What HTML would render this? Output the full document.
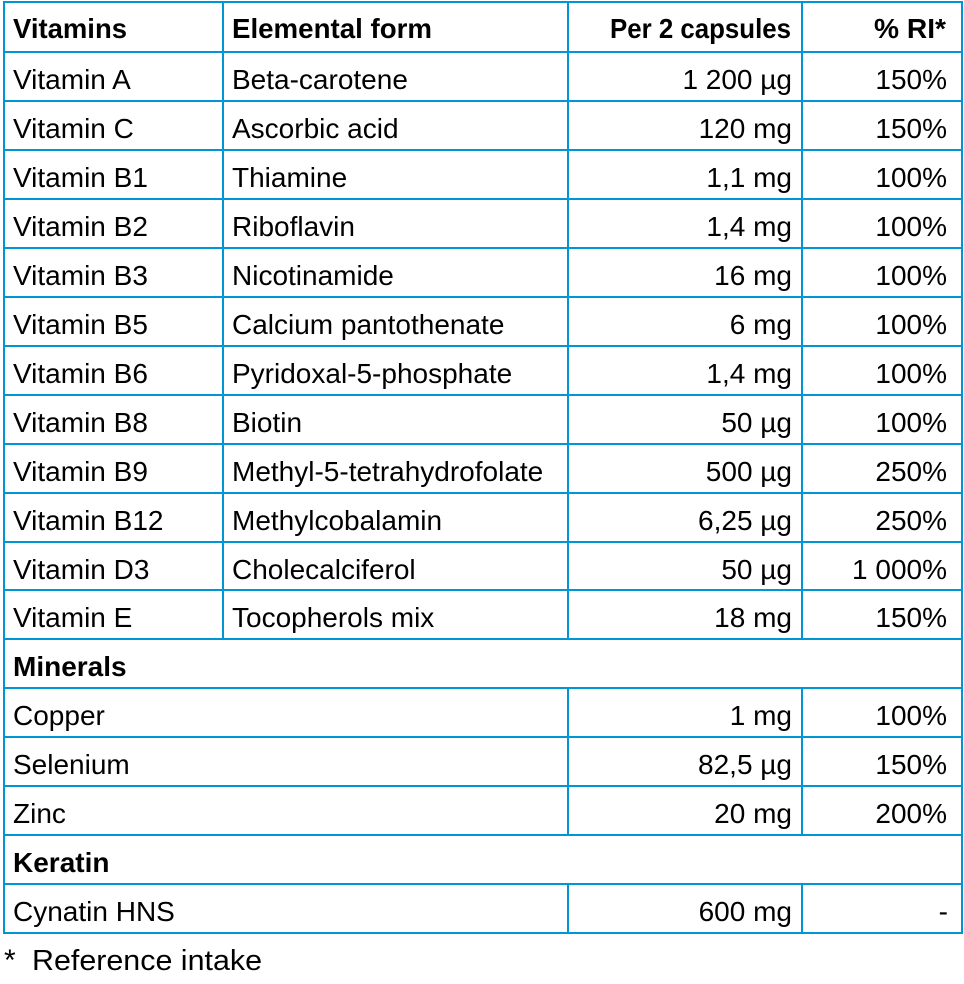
<!DOCTYPE html>
<html>
<head>
<meta charset="utf-8">
<style>
  html,body{margin:0;padding:0;background:#fff;}
  svg{display:block;}
  text{font-family:"Liberation Sans",sans-serif;fill:#000;}
  .r{font-size:28px;}
  .b{font-size:28px;font-weight:bold;}
  .e{text-anchor:end;}
</style>
</head>
<body>
<svg width="964" height="984" viewBox="0 0 964 984" xmlns="http://www.w3.org/2000/svg">
  <g fill="#0096d6">
    <!-- horizontal lines -->
    <rect x="3" y="1" width="960" height="2"/>
    <rect x="3" y="51" width="960" height="2"/>
    <rect x="3" y="100" width="960" height="2"/>
    <rect x="3" y="149" width="960" height="2"/>
    <rect x="3" y="198" width="960" height="2"/>
    <rect x="3" y="247" width="960" height="2"/>
    <rect x="3" y="296" width="960" height="2"/>
    <rect x="3" y="345" width="960" height="2"/>
    <rect x="3" y="394" width="960" height="2"/>
    <rect x="3" y="443" width="960" height="2"/>
    <rect x="3" y="492" width="960" height="2"/>
    <rect x="3" y="541" width="960" height="2"/>
    <rect x="3" y="589" width="960" height="2"/>
    <rect x="3" y="638" width="960" height="2"/>
    <rect x="3" y="687" width="960" height="2"/>
    <rect x="3" y="736" width="960" height="2"/>
    <rect x="3" y="785" width="960" height="2"/>
    <rect x="3" y="834" width="960" height="2"/>
    <rect x="3" y="883" width="960" height="2"/>
    <rect x="3" y="932" width="960" height="2"/>
    <!-- outer verticals -->
    <rect x="3" y="1" width="2" height="933"/>
    <rect x="961" y="1" width="2" height="933"/>
    <!-- col2 -->
    <rect x="222" y="1" width="2" height="639"/>
    <!-- col3 -->
    <rect x="567" y="1" width="2" height="639"/>
    <rect x="567" y="687" width="2" height="149"/>
    <rect x="567" y="883" width="2" height="51"/>
    <!-- col4 -->
    <rect x="801" y="1" width="2" height="639"/>
    <rect x="801" y="687" width="2" height="149"/>
    <rect x="801" y="883" width="2" height="51"/>
  </g>

  <!-- header -->
  <text class="b" x="13" y="38" textLength="114" lengthAdjust="spacingAndGlyphs">Vitamins</text>
  <text class="b" x="232" y="38" textLength="200" lengthAdjust="spacingAndGlyphs">Elemental form</text>
  <text class="b e" x="791" y="38" textLength="181" lengthAdjust="spacingAndGlyphs">Per 2 capsules</text>
  <text class="b e" x="946" y="38" textLength="72" lengthAdjust="spacingAndGlyphs">% RI*</text>

  <!-- rows -->
  <g class="r">
    <text class="r" x="13" y="89">Vitamin A</text>
    <text class="r" x="232" y="89">Beta-carotene</text>
    <text class="r e" x="792" y="89">1 200 µg</text>
    <text class="r e" x="947" y="89">150%</text>

    <text class="r" x="13" y="138">Vitamin C</text>
    <text class="r" x="232" y="138">Ascorbic acid</text>
    <text class="r e" x="792" y="138">120 mg</text>
    <text class="r e" x="947" y="138">150%</text>

    <text class="r" x="13" y="187">Vitamin B1</text>
    <text class="r" x="232" y="187">Thiamine</text>
    <text class="r e" x="792" y="187">1,1 mg</text>
    <text class="r e" x="947" y="187">100%</text>

    <text class="r" x="13" y="236">Vitamin B2</text>
    <text class="r" x="232" y="236">Riboflavin</text>
    <text class="r e" x="792" y="236">1,4 mg</text>
    <text class="r e" x="947" y="236">100%</text>

    <text class="r" x="13" y="285">Vitamin B3</text>
    <text class="r" x="232" y="285">Nicotinamide</text>
    <text class="r e" x="792" y="285">16 mg</text>
    <text class="r e" x="947" y="285">100%</text>

    <text class="r" x="13" y="334">Vitamin B5</text>
    <text class="r" x="232" y="334">Calcium pantothenate</text>
    <text class="r e" x="792" y="334">6 mg</text>
    <text class="r e" x="947" y="334">100%</text>

    <text class="r" x="13" y="383">Vitamin B6</text>
    <text class="r" x="232" y="383">Pyridoxal-5-phosphate</text>
    <text class="r e" x="792" y="383">1,4 mg</text>
    <text class="r e" x="947" y="383">100%</text>

    <text class="r" x="13" y="432">Vitamin B8</text>
    <text class="r" x="232" y="432">Biotin</text>
    <text class="r e" x="792" y="432">50 µg</text>
    <text class="r e" x="947" y="432">100%</text>

    <text class="r" x="13" y="481">Vitamin B9</text>
    <text class="r" x="232" y="481">Methyl-5-tetrahydrofolate</text>
    <text class="r e" x="792" y="481">500 µg</text>
    <text class="r e" x="947" y="481">250%</text>

    <text class="r" x="13" y="530">Vitamin B12</text>
    <text class="r" x="232" y="530">Methylcobalamin</text>
    <text class="r e" x="792" y="530">6,25 µg</text>
    <text class="r e" x="947" y="530">250%</text>

    <text class="r" x="13" y="579">Vitamin D3</text>
    <text class="r" x="232" y="579">Cholecalciferol</text>
    <text class="r e" x="792" y="579">50 µg</text>
    <text class="r e" x="947" y="579">1 000%</text>

    <text class="r" x="13" y="627">Vitamin E</text>
    <text class="r" x="232" y="627">Tocopherols mix</text>
    <text class="r e" x="792" y="627">18 mg</text>
    <text class="r e" x="947" y="627">150%</text>

    <text class="b" x="13" y="676">Minerals</text>

    <text class="r" x="13" y="725">Copper</text>
    <text class="r e" x="792" y="725">1 mg</text>
    <text class="r e" x="947" y="725">100%</text>

    <text class="r" x="13" y="774">Selenium</text>
    <text class="r e" x="792" y="774">82,5 µg</text>
    <text class="r e" x="947" y="774">150%</text>

    <text class="r" x="13" y="823">Zinc</text>
    <text class="r e" x="792" y="823">20 mg</text>
    <text class="r e" x="947" y="823">200%</text>

    <text class="b" x="13" y="872">Keratin</text>

    <text class="r" x="13" y="921">Cynatin HNS</text>
    <text class="r e" x="792" y="921">600 mg</text>
    <text class="r e" x="948" y="921">-</text>
  </g>

  <!-- footer -->
  <text x="4" y="970" style="font-size:30px;">*</text>
  <text x="32" y="970" style="font-size:29px;" textLength="230" lengthAdjust="spacingAndGlyphs">Reference intake</text>
</svg>
</body>
</html>
